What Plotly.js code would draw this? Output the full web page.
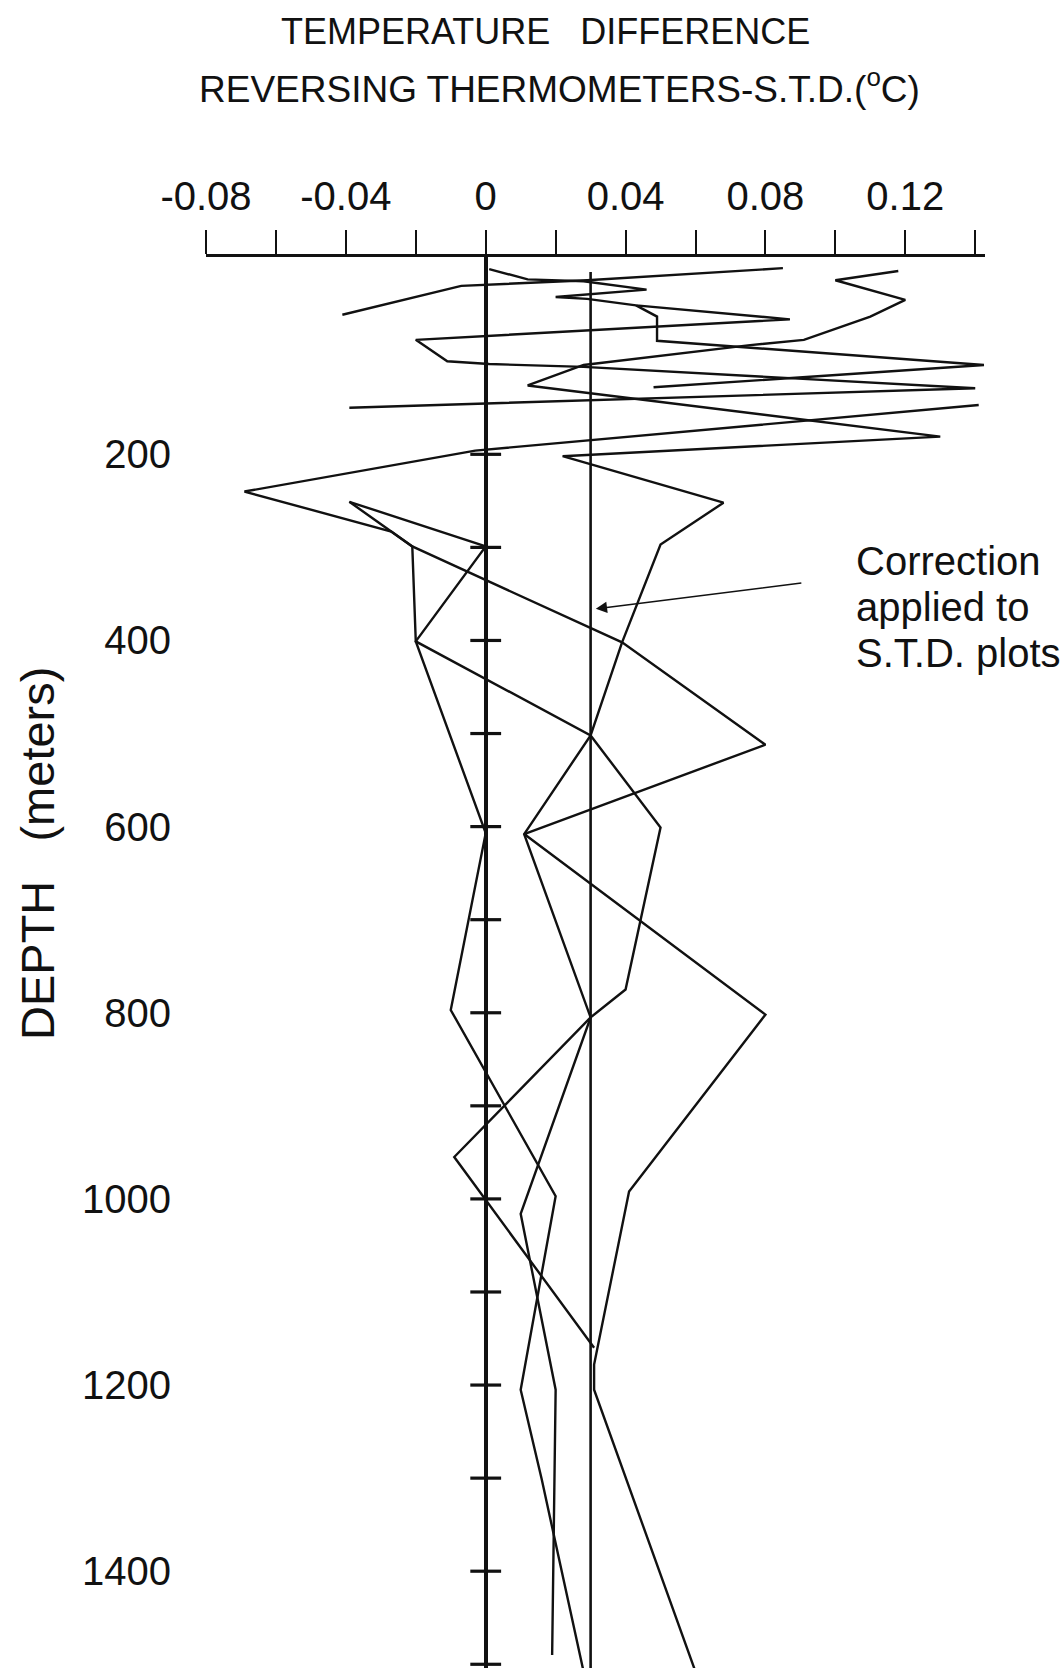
<!DOCTYPE html>
<html><head><meta charset="utf-8">
<script src="https://cdn.plot.ly/plotly-3.0.1.min.js"></script>
<style>html,body{margin:0;padding:0;background:#fff}#chart{width:1064px;height:1668px}</style>
</head><body><div id="chart"></div>
<script>
// ---- axis ticks ----
const xTickVals = [-0.08, -0.04, 0, 0.04, 0.08, 0.12];
const xTickText = ['-0.08', '-0.04', '0', '0.04', '0.08', '0.12'];
const xMinorTickVals = [-0.06, -0.02, 0.02, 0.06, 0.10, 0.14];
const yTickVals = [200, 400, 600, 800, 1000, 1200, 1400];
const yTickText = ['200', '400', '600', '800', '1000', '1200', '1400'];
const zeroTickDepths = [200, 300, 400, 500, 600, 700, 800, 900, 1000, 1100, 1200, 1300, 1400, 1500];
const zeroTickDiff = zeroTickDepths.map(() => 0);

// ---- correction line (S.T.D. correction, deg C) ----
const correctionDiff = [0.03, 0.03];
const correctionDepth = [4, 1510];

// ---- station profiles: temperature difference (deg C) vs depth (m) ----
const station1Diff  = [0.085, 0.029, -0.007, -0.041];
const station1Depth = [0, 13, 19, 50];

const station2Diff  = [0.001, 0.012, 0.028, 0.046, 0.020, 0.029, 0.043, 0.087, -0.020, -0.011, 0.001, 0.028, 0.140, -0.039];
const station2Depth = [1, 12, 14, 23, 31, 33, 40, 55, 77, 100, 103, 106, 129, 150];

const station3Diff  = [0.118, 0.100, 0.120, 0.110, 0.091, 0.075, 0.028, 0.012, 0.130, 0.022, 0.068, 0.050, 0.039, 0.030, 0.011, 0.030, 0.010, 0.020, 0.019];
const station3Depth = [3, 13, 34, 52, 77, 83, 104, 126, 181, 202, 252, 297, 402, 502, 608, 805, 1016, 1205, 1490];

const station4Diff  = [0.043, 0.049, 0.049, 0.1425, 0.048];
const station4Depth = [40, 52, 78, 104, 128];

const station5Diff  = [0.141, -0.003, -0.069, -0.027, -0.021, 0.039, 0.080, 0.011, 0.080, 0.041, 0.031, 0.031, 0.060];
const station5Depth = [147, 196, 240, 283, 299, 402, 512, 608, 802, 992, 1178, 1205, 1508];

const station6Diff  = [-0.039, -0.021, -0.020, 0.030, 0.050, 0.040, 0.030, -0.009, 0.031];
const station6Depth = [251, 299, 401, 502, 601, 775, 805, 955, 1160];

const station7Diff  = [-0.039, 0.000, -0.020, 0.000, -0.010, 0.020, 0.010, 0.016, 0.028];
const station7Depth = [251, 299, 401, 607, 797, 997, 1205, 1301, 1508];

const stations = [
  [station1Diff, station1Depth], [station2Diff, station2Depth], [station3Diff, station3Depth],
  [station4Diff, station4Depth], [station5Diff, station5Depth], [station6Diff, station6Depth],
  [station7Diff, station7Depth]
];

const INK = '#111';
const traces = stations.map(([x, y], i) => ({
  type: 'scatter', mode: 'lines', x: x, y: y, name: 'Station ' + (i + 1),
  line: {color: INK, width: 2.4}, hoverinfo: 'skip', showlegend: false
}));
traces.push({
  type: 'scatter', mode: 'lines', x: correctionDiff, y: correctionDepth,
  line: {color: INK, width: 2.6}, hoverinfo: 'skip', showlegend: false
});
traces.push({
  type: 'scatter', mode: 'markers', x: zeroTickDiff, y: zeroTickDepths,
  marker: {symbol: 'line-ew', size: 22, color: INK, line: {color: INK, width: 3.2}},
  hoverinfo: 'skip', showlegend: false
});

// geometry
const W = 1064, H = 1668;
const ML = 206, MR = 79, MT = 257, MB = 0;
const PW = W - ML - MR, PH = H - MT - MB;
const px = X => (X - ML) / PW;
const py = Y => (H - MB - Y) / PH;

const layout = {
  width: W, height: H,
  margin: {l: ML, r: MR, t: MT, b: MB, pad: 0},
  paper_bgcolor: '#fff', plot_bgcolor: '#fff',
  font: {family: 'Liberation Sans, Arial, sans-serif', color: INK},
  xaxis: {
    side: 'top', range: [-0.08, 0.1428], tickmode: 'array',
    tickvals: xTickVals, ticktext: xTickText,
    ticks: 'outside', ticklen: 24, tickwidth: 2, tickcolor: INK,
    minor: {tickvals: xMinorTickVals, ticks: 'outside', ticklen: 24, tickwidth: 2, tickcolor: INK, showgrid: false},
    showline: true, linewidth: 3, linecolor: INK,
    showgrid: false, zeroline: true, zerolinecolor: INK, zerolinewidth: 4.3,
    tickfont: {size: 40, family: 'Liberation Sans, Arial, sans-serif', color: INK},
    ticklabelstandoff: 4, fixedrange: true
  },
  yaxis: {
    range: [1504, -12], tickmode: 'array', tickvals: yTickVals, ticktext: yTickText,
    ticks: '', showline: false, showgrid: false, zeroline: false,
    tickfont: {size: 40, family: 'Liberation Sans, Arial, sans-serif', color: INK},
    ticklabelstandoff: 34, fixedrange: true
  },
  annotations: [
    {xref: 'paper', yref: 'paper', x: px(545), y: py(32), xanchor: 'center', yanchor: 'middle', showarrow: false,
     text: 'TEMPERATURE\u00a0\u00a0\u00a0DIFFERENCE', font: {size: 36, color: INK}},
    {xref: 'paper', yref: 'paper', x: px(559), y: py(86), xanchor: 'center', yanchor: 'middle', showarrow: false,
     text: 'REVERSING THERMOMETERS-S.T.D.(<sup>o</sup>C)', font: {size: 37, color: INK}},
    {xref: 'paper', yref: 'paper', x: px(37), y: py(854), xanchor: 'center', yanchor: 'middle', showarrow: false,
     textangle: -90, text: 'DEPTH\u00a0\u00a0\u00a0(meters)', font: {size: 47, color: INK}},
    {xref: 'paper', yref: 'paper', x: px(854), y: py(561), xanchor: 'left', yanchor: 'middle', showarrow: false,
     text: 'Correction', font: {size: 40, color: INK}},
    {xref: 'paper', yref: 'paper', x: px(854), y: py(607), xanchor: 'left', yanchor: 'middle', showarrow: false,
     text: 'applied to', font: {size: 40, color: INK}},
    {xref: 'paper', yref: 'paper', x: px(854), y: py(653), xanchor: 'left', yanchor: 'middle', showarrow: false,
     text: 'S.T.D. plots', font: {size: 40, color: INK}},
    {xref: 'x', yref: 'y', x: 0.0315, y: 366, text: '', showarrow: true,
     ax: 207, ay: -26, arrowhead: 2, arrowsize: 1.4, arrowwidth: 1.6, arrowcolor: INK}
  ],
  showlegend: false
};

Plotly.newPlot('chart', traces, layout, {staticPlot: true, displayModeBar: false});
</script>
</body></html>
